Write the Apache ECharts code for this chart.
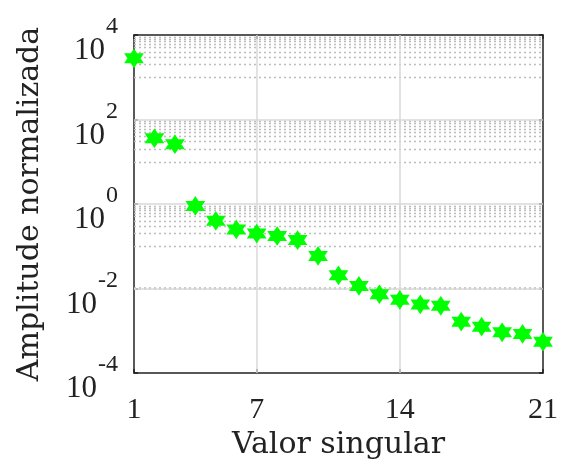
<!DOCTYPE html>
<html lang="es">
<head>
    <meta charset="UTF-8">
    <title>Valor singular</title>
    <script src="https://cdn.jsdelivr.net/npm/echarts@6/dist/echarts.min.js"></script>
    <style>
        html, body { margin: 0; padding: 0; background: #fff; }
    </style>
</head>
<body>
        <div id="main" style="width: 563px;height:469px;"></div>
        <script type="text/javascript">
            // datos
            var singularIndex = [1, 2, 3, 4, 5, 6, 7, 8, 9, 10, 11, 12, 13, 14, 15, 16, 17, 18, 19, 20, 21];
            var normalizedAmplitude = [2800, 36, 26, 0.90, 0.40, 0.25, 0.20, 0.175, 0.14, 0.059,
                0.0205, 0.0115, 0.0073, 0.0054, 0.0042, 0.0039, 0.00164, 0.00125, 0.00092, 0.00084, 0.00055];
            var xTickValues = [1, 7, 14, 21];
            var yTickValues = [1e-4, 1e-2, 1, 1e2, 1e4];

            var serif = '"Liberation Serif", "DejaVu Serif", serif';
            var titleFont = '"DejaVu Serif", "Liberation Serif", serif';

            // rejilla secundaria punteada (solo en la decada bajo cada marca, como MATLAB)
            var minorLines = [];
            [1e3, 1e1, 1e-1, 1e-3].forEach(function (d) {
                for (var k = 1; k <= 9; k++) minorLines.push({ yAxis: k * d });
            });

            var points = singularIndex.map(function (x, i) { return [x, normalizedAmplitude[i]]; });

            var hexagram = 'path://M0,-10 L2.9,-5 L8.66,-5 L5.8,0 L8.66,5 L2.9,5 L0,10 L-2.9,5 L-8.66,5 L-5.8,0 L-8.66,-5 L-2.9,-5 Z';

            var myChart = echarts.init(document.getElementById('main'));
            var option = {
                animation: false,
                grid: { left: 134, right: 20, top: 35, bottom: 96 },
                xAxis: [{
                    type: 'value', min: 1, max: 21, position: 'bottom',
                    name: 'Valor singular', nameLocation: 'middle', nameGap: 49,
                    nameTextStyle: { fontFamily: titleFont, fontSize: 30, color: '#222' },
                    axisLine: { show: true, lineStyle: { color: '#222', width: 1.5 } },
                    axisTick: { inside: true, length: 4, customValues: xTickValues, lineStyle: { color: '#222', width: 1.5 } },
                    axisLabel: { customValues: xTickValues, margin: 22, fontFamily: serif, fontSize: 30, color: '#222' },
                    splitLine: { show: false }
                }, {
                    type: 'value', min: 1, max: 21, position: 'top',
                    axisLine: { show: true, lineStyle: { color: '#222', width: 1.5 } },
                    axisTick: { inside: true, length: 4, customValues: xTickValues, lineStyle: { color: '#222', width: 1.5 } },
                    axisLabel: { show: false },
                    splitLine: { show: false }
                }],
                yAxis: [{
                    type: 'log', logBase: 10, min: 1e-4, max: 1e4, position: 'left',
                    name: 'Amplitude normalizada', nameLocation: 'middle', nameGap: 89,
                    nameTextStyle: { fontFamily: titleFont, fontSize: 30, color: '#222' },
                    axisLine: { show: true, lineStyle: { color: '#222', width: 1.5 } },
                    axisTick: { inside: true, length: 4, customValues: yTickValues, lineStyle: { color: '#222', width: 1.5 } },
                    axisLabel: {
                        customValues: yTickValues, margin: 16, color: '#222',
                        formatter: function (v) {
                            var e = Math.round(Math.log10(v));
                            return '{b|10}{e|' + e + '}';
                        },
                        rich: {
                            b: { fontFamily: serif, fontSize: 31, padding: [32, 1, 0, 0], color: '#222' },
                            e: { fontFamily: serif, fontSize: 24, padding: [0, 0, 16, 0], color: '#222' }
                        }
                    },
                    splitLine: { show: false }
                }, {
                    type: 'log', logBase: 10, min: 1e-4, max: 1e4, position: 'right',
                    axisLine: { show: true, lineStyle: { color: '#222', width: 1.5 } },
                    axisTick: { inside: true, length: 4, customValues: yTickValues, lineStyle: { color: '#222', width: 1.5 } },
                    axisLabel: { show: false },
                    splitLine: { show: false }
                }],
                series: [{
                    type: 'line', data: [], silent: true, z: 1,
                    markLine: {
                        silent: true, symbol: 'none', label: { show: false },
                        lineStyle: { color: '#bdbdbd', type: [2, 3], width: 1.3 },
                        data: minorLines
                    }
                }, {
                    type: 'line', data: [], silent: true, z: 1,
                    markLine: {
                        silent: true, symbol: 'none', label: { show: false },
                        lineStyle: { color: '#d9d9d9', type: 'solid', width: 1.5 },
                        data: [{ xAxis: 7 }, { xAxis: 14 }, { yAxis: 1e2 }, { yAxis: 1 }, { yAxis: 1e-2 }]
                    }
                }, {
                    name: 'Amplitude', type: 'scatter', z: 5,
                    symbol: hexagram, symbolSize: 17,
                    itemStyle: { color: '#00ff00', borderColor: '#00ff00', borderWidth: 1.5, opacity: 1 },
                    data: points
                }]
            };
            myChart.setOption(option);
        </script>

</body>
</html>
